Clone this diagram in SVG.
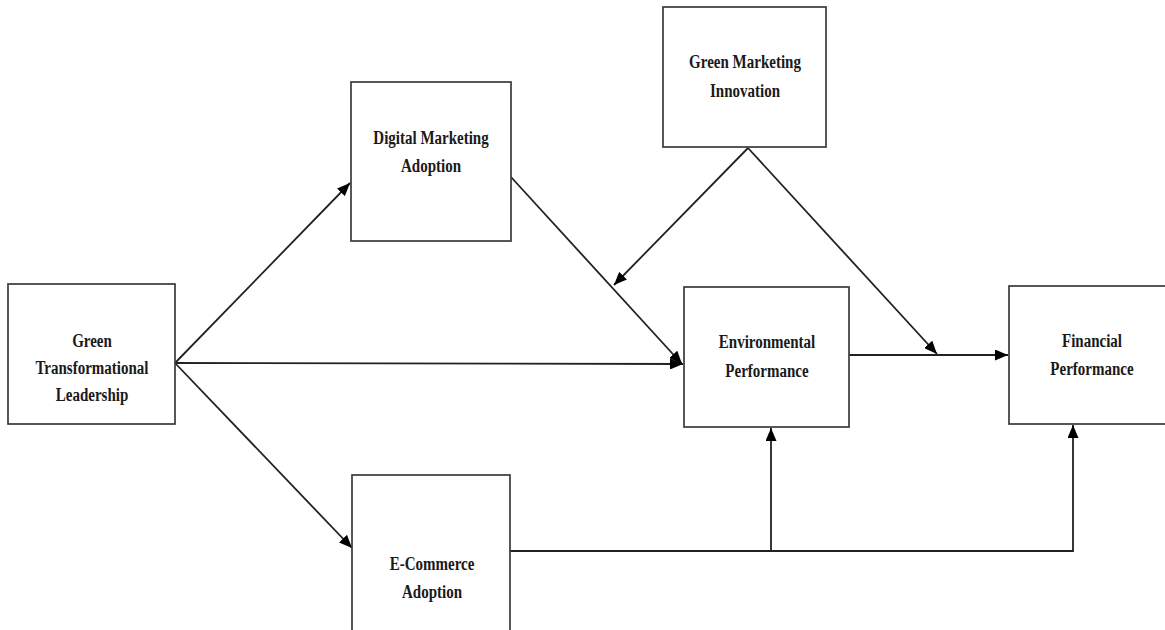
<svg xmlns="http://www.w3.org/2000/svg" width="1165" height="630" viewBox="0 0 1165 630">
<style>
  .box { fill: #ffffff; stroke: #3a3a3a; stroke-width: 1.7; }
  .lbl { font-family: "Liberation Serif", "Times New Roman", serif; font-weight: bold; font-size: 19px; fill: #1a1a1a; text-anchor: middle; }
  .conn { fill: none; stroke: #222222; stroke-width: 1.8; }
</style>
<defs>
  <marker id="arr" viewBox="0 0 13 11" refX="13" refY="5.5" markerWidth="13" markerHeight="11" markerUnits="userSpaceOnUse" orient="auto">
    <path d="M0,0 L13,5.5 L0,11 Z" fill="#000000"/>
  </marker>
</defs>
<rect width="1165" height="630" fill="#ffffff"/>

<g id="connectors">
  <path class="conn" d="M175,363 L350,183" marker-end="url(#arr)"/>
  <path class="conn" d="M175,363 L683,364" marker-end="url(#arr)"/>
  <path class="conn" d="M175,363 L352,548" marker-end="url(#arr)"/>
  <path class="conn" d="M511,177 L682,364" marker-end="url(#arr)"/>
  <path class="conn" d="M748,148 L614,285" marker-end="url(#arr)"/>
  <path class="conn" d="M748,148 L937,354" marker-end="url(#arr)"/>
  <path class="conn" d="M849,355 L1008,355" marker-end="url(#arr)"/>
  <path class="conn" d="M510,551 L1073,551 L1073,425" marker-end="url(#arr)"/>
  <path class="conn" d="M771,551 L771,428" marker-end="url(#arr)"/>
</g>

<g id="gtl">
  <rect class="box" x="8" y="284" width="167" height="140"/>
  <text class="lbl" transform="translate(92 347) scale(0.79 1)">Green</text>
  <text class="lbl" transform="translate(92 374) scale(0.79 1)">Transformational</text>
  <text class="lbl" transform="translate(92 401) scale(0.79 1)">Leadership</text>
</g>

<g id="dma">
  <rect class="box" x="351" y="82" width="160" height="159"/>
  <text class="lbl" transform="translate(431 144) scale(0.79 1)">Digital Marketing</text>
  <text class="lbl" transform="translate(431 172) scale(0.79 1)">Adoption</text>
</g>

<g id="gmi">
  <rect class="box" x="663" y="7" width="163" height="140"/>
  <text class="lbl" transform="translate(745 68) scale(0.79 1)">Green Marketing</text>
  <text class="lbl" transform="translate(745 97) scale(0.79 1)">Innovation</text>
</g>

<g id="env">
  <rect class="box" x="684" y="287" width="165" height="140"/>
  <text class="lbl" transform="translate(767 348) scale(0.79 1)">Environmental</text>
  <text class="lbl" transform="translate(767 377) scale(0.79 1)">Performance</text>
</g>

<g id="fin">
  <rect class="box" x="1009" y="286" width="172" height="138"/>
  <text class="lbl" transform="translate(1092 347) scale(0.79 1)">Financial</text>
  <text class="lbl" transform="translate(1092 375) scale(0.79 1)">Performance</text>
</g>

<g id="eca">
  <rect class="box" x="352" y="475" width="158" height="165"/>
  <text class="lbl" transform="translate(432 570) scale(0.79 1)">E-Commerce</text>
  <text class="lbl" transform="translate(432 598) scale(0.79 1)">Adoption</text>
</g>
</svg>
